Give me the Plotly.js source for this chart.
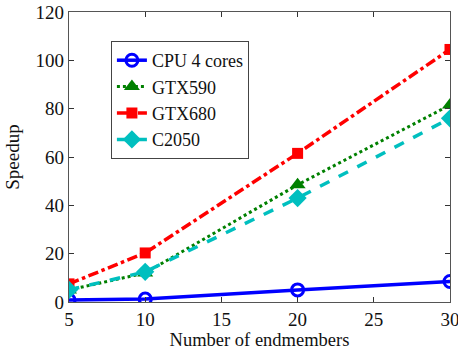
<!DOCTYPE html>
<html><head><meta charset="utf-8">
<script src="https://cdn.plot.ly/plotly-3.0.1.min.js"></script>
<style>html,body{margin:0;padding:0;background:#fff}</style>
</head><body><div id="chart" style="width:458px;height:352px"></div>
<script>
const endmembers = [5, 10, 20, 30];
const cpu4 = [0.8, 1.2, 5.0, 8.5];
const gtx590 = [5.0, 12.0, 48.5, 81.5];
const gtx680 = [7.5, 20.3, 61.5, 104.5];
const c2050 = [5.0, 12.5, 43.0, 76.0];
const xTicks = [5, 10, 15, 20, 25, 30];
const yTicks = [0, 20, 40, 60, 80, 100, 120];

const F = "Liberation Serif, Times New Roman, serif";
const traces = [
  {x: endmembers, y: cpu4, name: 'CPU 4 cores', mode: 'lines+markers',
   line: {color: '#0000ff', width: 3.5, dash: 'solid'},
   marker: {symbol: 'circle-open', size: 12, color: '#0000ff', line: {width: 3, color: '#0000ff'}}},
  {x: endmembers, y: gtx590, name: 'GTX590', mode: 'lines+markers',
   line: {color: '#008000', width: 3, dash: 'dot'},
   marker: {symbol: 'triangle-up', size: 14, color: '#008000'}},
  {x: endmembers, y: gtx680, name: 'GTX680', mode: 'lines+markers',
   line: {color: '#ff0000', width: 3.5, dash: 'dashdot'},
   marker: {symbol: 'square', size: 11, color: '#ff0000'}},
  {x: endmembers, y: c2050, name: 'C2050', mode: 'lines+markers',
   line: {color: '#00bfbf', width: 3.5, dash: 'dash'},
   marker: {symbol: 'diamond', size: 14, color: '#00bfbf'}}
];
const axisCommon = {
  showgrid: false, zeroline: false, showline: true, linecolor: '#555', linewidth: 1.2,
  mirror: 'ticks', ticks: 'inside', ticklen: 5, tickcolor: '#333',
  ticklabeloverflow: 'allow',
  tickfont: {family: F, size: 19, color: '#111'}
};
const layout = {
  width: 458, height: 352,
  margin: {l: 69, r: 8, t: 12, b: 50},
  paper_bgcolor: '#fff', plot_bgcolor: '#fff',
  showlegend: true,
  legend: {x: 0.11, y: 0.9, xanchor: 'left', yanchor: 'top',
    bordercolor: '#444', borderwidth: 1, bgcolor: '#fff',
    font: {family: F, size: 18, color: '#111'}, tracegroupgap: 0, itemwidth: 30},
  xaxis: Object.assign({}, axisCommon, {range: [5, 30], tickvals: xTicks,
    title: {text: 'Number of endmembers', font: {family: F, size: 18.5, color: '#111'}, standoff: 4}}),
  yaxis: Object.assign({}, axisCommon, {range: [0, 120], tickvals: yTicks,
    title: {text: 'Speedup', font: {family: F, size: 19, color: '#111'}, standoff: 10}})
};
Plotly.newPlot('chart', traces, layout, {displayModeBar: false, staticPlot: true});
</script></body></html>
